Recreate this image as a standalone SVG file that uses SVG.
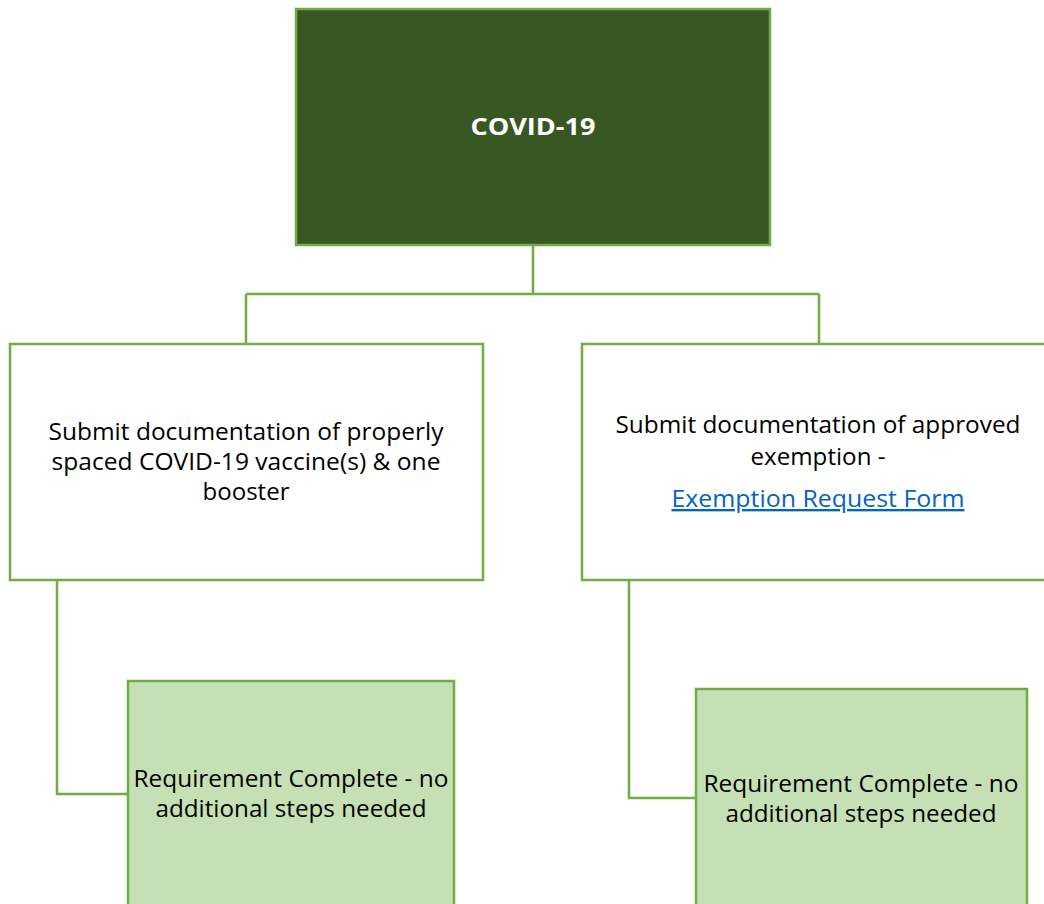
<svg xmlns="http://www.w3.org/2000/svg" width="1044" height="904" viewBox="0 0 1044 904">
<style>
.box{stroke:#70AD47;stroke-width:2.5}
.conn{fill:none;stroke:#70AD47;stroke-width:2.5}
text{font-family:"Open Sans","Liberation Sans",sans-serif;font-size:23.5px;text-anchor:middle;fill:#000}
.title{font-weight:bold;fill:#fff;font-size:24px}
.link{fill:#0563C1}
</style>
<rect width="1044" height="904" fill="#fff"/>
<g id="connectors">
<path class="conn" d="M533 245V294M246 294H819M246 294V344M819 294V344"/>
<path class="conn" d="M57 580V794H128"/>
<path class="conn" d="M629 580V798H696"/>
</g>
<g id="covid">
<rect class="box" x="296" y="9" width="474" height="236" fill="#385723"/>
<text class="title" x="533" y="135" textLength="125" lengthAdjust="spacingAndGlyphs">COVID-19</text>
</g>
<g id="vaccine">
<rect class="box" x="10" y="344" width="473" height="236" fill="#fff"/>
<text x="246" y="440" textLength="395" lengthAdjust="spacingAndGlyphs">Submit documentation of properly</text>
<text x="246" y="470" textLength="389" lengthAdjust="spacingAndGlyphs">spaced COVID-19 vaccine(s) &amp; one</text>
<text x="246" y="500" textLength="87" lengthAdjust="spacingAndGlyphs">booster</text>
</g>
<g id="exemption">
<rect class="box" x="582" y="344" width="474" height="236" fill="#fff"/>
<text x="818" y="433" textLength="405" lengthAdjust="spacingAndGlyphs">Submit documentation of approved</text>
<text x="818" y="465" textLength="135" lengthAdjust="spacingAndGlyphs">exemption -</text>
<text class="link" x="818" y="507" text-decoration="underline" textLength="293" lengthAdjust="spacingAndGlyphs">Exemption Request Form </text>
</g>
<g id="complete-left">
<rect class="box" x="128" y="681" width="326" height="240" fill="#C5E0B4"/>
<text x="291" y="787" textLength="315" lengthAdjust="spacingAndGlyphs">Requirement Complete - no</text>
<text x="291" y="817" textLength="271" lengthAdjust="spacingAndGlyphs">additional steps needed</text>
</g>
<g id="complete-right">
<rect class="box" x="696" y="689" width="331" height="240" fill="#C5E0B4"/>
<text x="861" y="792" textLength="315" lengthAdjust="spacingAndGlyphs">Requirement Complete - no</text>
<text x="861" y="822" textLength="271" lengthAdjust="spacingAndGlyphs">additional steps needed</text>
</g>
</svg>
